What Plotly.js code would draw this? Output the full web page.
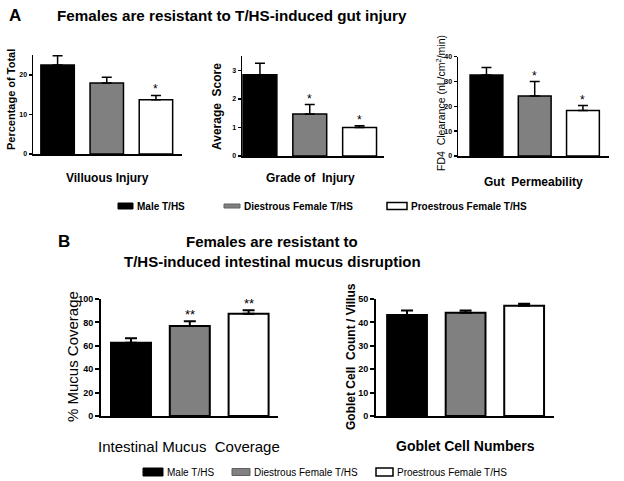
<!DOCTYPE html>
<html><head><meta charset="utf-8">
<script src="https://cdn.plot.ly/plotly-3.0.1.min.js"></script>
<style>html,body{margin:0;padding:0;background:#fff}#chart{width:624px;height:481px}</style>
</head><body><div id="chart"></div>
<script>
// ---- data ----
const groups = ['Male T/HS', 'Diestrous Female T/HS', 'Proestrous Female T/HS'];
const villousMean = [22.5, 17.9, 13.7];
const villousErr  = [2.3, 1.5, 1.1];
const villousSig  = ['', '', '*'];
const gradeMean = [2.84, 1.47, 1.0];
const gradeErr  = [0.41, 0.33, 0.06];
const gradeSig  = ['', '*', '*'];
const fd4Mean = [32.6, 24.2, 18.3];
const fd4Err  = [3.0, 5.8, 2.0];
const fd4Sig  = ['', '*', '*'];
const mucusMean = [62.6, 76.9, 87.4];
const mucusErr  = [3.8, 4.1, 2.9];
const mucusSig  = ['', '**', '**'];
const gobletMean = [43.2, 44.1, 47.1];
const gobletErr  = [1.9, 1.0, 0.9];
const gobletSig  = ['', '', ''];

// ---- layout helpers ----
const W = 624, H = 481;
const FONT = 'Liberation Sans, Arial, sans-serif';
const px = x => x / W;
const py = y => 1 - y / H;
const barColors = ['#000000', '#808080', '#ffffff'];

const panels = [
  {mean: villousMean, err: villousErr, sig: villousSig, x: [33, 182], y: [55, 154], xr: [-0.5, 2.53], yr: [0, 25], dtick: 10, tick: 7, tl: 3, star: 12, cap: 10, lw: 1.5},
  {mean: gradeMean, err: gradeErr, sig: gradeSig, x: [242, 384], y: [56, 156], xr: [-0.36, 2.49], yr: [0, 3.5], dtick: 1, tick: 7, tl: 3, star: 12, cap: 10, lw: 1.5},
  {mean: fd4Mean, err: fd4Err, sig: fd4Sig, x: [458, 609], y: [56.7, 156], xr: [-0.59, 2.54], yr: [0, 40], dtick: 10, tick: 7, tl: 3, star: 12, cap: 10, lw: 1.5},
  {mean: mucusMean, err: mucusErr, sig: mucusSig, x: [101, 278], y: [299, 416], xr: [-0.51, 2.5], yr: [0, 100], dtick: 20, tick: 9, tl: 4, star: 13, cap: 12, lw: 2},
  {mean: gobletMean, err: gobletErr, sig: gobletSig, x: [376, 554], y: [299, 416], xr: [-0.53, 2.51], yr: [0, 50], dtick: 10, tick: 9, tl: 4, star: 13, cap: 12, lw: 2}
];

const data = [];
const layout = {
  width: W, height: H, margin: {l: 0, r: 0, t: 0, b: 0},
  paper_bgcolor: '#fff', plot_bgcolor: '#fff', showlegend: false,
  font: {family: FONT, color: '#000'},
  annotations: [], shapes: []
};

panels.forEach((p, i) => {
  const n = i === 0 ? '' : String(i + 1);
  const xa = 'x' + n, ya = 'y' + n;
  data.push({
    type: 'bar', x: [0, 1, 2], y: p.mean, xaxis: xa, yaxis: ya, width: 0.68,
    marker: {color: barColors, line: {color: '#000', width: p.lw}},
    error_y: {type: 'data', symmetric: false, array: p.err, arrayminus: [0, 0, 0], color: '#000', thickness: p.lw, width: p.cap / 2},
    hoverinfo: 'none'
  });
  layout['xaxis' + n] = {
    domain: [px(p.x[0]), px(p.x[1])], range: p.xr, anchor: ya,
    showticklabels: false, ticks: '', showgrid: false, zeroline: false,
    showline: true, linecolor: '#000', linewidth: p.lw, fixedrange: true
  };
  layout['yaxis' + n] = {
    domain: [py(p.y[1]), py(p.y[0])], range: p.yr, anchor: xa, dtick: p.dtick,
    ticks: 'outside', ticklen: p.tl, tickwidth: p.lw, tickcolor: '#000',
    showgrid: false, zeroline: false, showline: true, linecolor: '#000', linewidth: p.lw,
    tickfont: {family: FONT, size: p.tick, color: '#000', weight: 'bold'}, fixedrange: true
  };
  p.sig.forEach((s, k) => {
    if (!s) return;
    layout.annotations.push({
      xref: xa, yref: ya, x: k, y: p.mean[k] + p.err[k], text: s, showarrow: false,
      yanchor: 'bottom', yshift: -3, font: {family: FONT, size: p.star, color: '#000'}
    });
  });
});

function txt(x, y, text, size, bold, opts) {
  layout.annotations.push(Object.assign({
    xref: 'paper', yref: 'paper', x: px(x), y: py(y), text: text, showarrow: false,
    xanchor: 'center', yanchor: 'middle',
    font: {family: FONT, size: size, color: '#000', weight: bold ? 'bold' : 'normal'}
  }, opts || {}));
}

// titles
txt(7, 15, 'A', 17, true, {xanchor: 'left'});
txt(55, 15, 'Females are resistant to T/HS-induced gut injury', 15.2, true, {xanchor: 'left'});
txt(56, 241, 'B', 17, true, {xanchor: 'left'});
txt(272, 241, 'Females are resistant to', 15, true);
txt(272, 261, 'T/HS-induced intestinal mucus disruption', 15, true);

// axis titles panel A
txt(11, 100, 'Percentage of Total', 11, true, {textangle: -90});
txt(107, 178, 'Villuous Injury', 12, true);
txt(217, 107, 'Average  Score', 12, true, {textangle: -90});
txt(310, 178, 'Grade of  Injury', 12, true);
txt(440, 103, 'FD4  Clearance (nL/cm<sup>2</sup>/min)', 10.5, false, {textangle: -90});
txt(533, 182, 'Gut  Permeability', 12, true);

// axis titles panel B
txt(72, 357, '% Mucus Coverage', 15, false, {textangle: -90});
txt(189, 446, 'Intestinal Mucus  Coverage', 15, false);
txt(351, 357, 'Goblet Cell  Count / Villus', 12, true, {textangle: -90});
txt(465, 446, 'Goblet Cell Numbers', 14, true);

// legends (swatches as shapes, labels from groups)
function legend(items, yc, size, bold) {
  items.forEach((it, k) => {
    layout.shapes.push({
      type: 'rect', xref: 'paper', yref: 'paper',
      x0: px(it[0]), x1: px(it[1]), y0: py(yc + it[2] / 2), y1: py(yc - it[2] / 2),
      fillcolor: barColors[k], line: {color: k === 1 ? '#606060' : '#000', width: k === 2 ? 1.5 : 1}
    });
    txt(it[1] + 2, yc, groups[k], size, bold, {xanchor: 'left'});
  });
}
legend([[118, 133, 6], [224, 240, 4], [387, 407, 7]], 206, 10, true);
legend([[143, 163, 8], [232, 250, 7], [376, 393, 8]], 472, 10, false);

Plotly.newPlot('chart', data, layout, {staticPlot: true, displayModeBar: false});
</script>
</body></html>
